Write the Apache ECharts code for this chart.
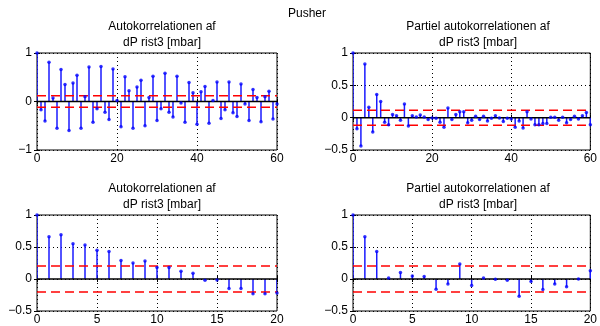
<!DOCTYPE html>
<html>
<head>
<meta charset="utf-8">
<script src="https://cdn.jsdelivr.net/npm/echarts@6/dist/echarts.min.js"></script>
<style>
  html, body { margin: 0; padding: 0; background: #fff; }
  #chart { width: 600px; height: 326px; }
</style>
</head>
<body>
<div id="chart"></div>
<script>
// ACF / PACF, lag 0..60
const acfLong = [1, -0.17, -0.40, 0.81, 0.07, -0.55, 0.66, 0.35, -0.60, 0.38, 0.54,
  -0.55, 0.10, 0.71, -0.43, -0.15, 0.72, -0.22, -0.37, 0.67, 0.02,
  -0.52, 0.51, 0.22, -0.55, 0.30, 0.44, -0.50, 0.08, 0.52, -0.39,
  -0.15, 0.58, -0.22, -0.32, 0.52, -0.03, -0.43, 0.39, 0.18, -0.47,
  0.20, 0.31, -0.45, 0.02, 0.40, -0.35, -0.17, 0.40, -0.23, -0.31,
  0.36, -0.05, -0.39, 0.25, 0.08, -0.42, 0.10, 0.21, -0.36, -0.05]
const pacfLong = [1, -0.17, -0.44, 0.83, 0.16, -0.22, 0.36, 0.25, -0.07, -0.11, 0.05,
  0.03, -0.04, 0.21, -0.13, 0.03, 0.01, 0.04, 0.01, -0.03, -0.005,
  -0.01, -0.07, -0.15, 0.15, -0.03, 0.05, 0.09, 0.09, -0.08, -0.04,
  0.02, -0.03, 0.02, -0.05, -0.01, 0.03, -0.005, -0.06, -0.01, -0.02,
  -0.15, -0.05, -0.16, 0.09, -0.02, -0.11, -0.11, -0.09, -0.09, 0.005,
  0.005, -0.04, 0.005, -0.08, -0.03, 0.02, -0.02, 0.03, 0.08, -0.11]
// ACF / PACF, lag 0..20
const acfShort = [1, 0.66, 0.69, 0.55, 0.53, 0.45, 0.43, 0.29, 0.25, 0.28, 0.18,
  0.18, 0.12, 0.09, -0.02, -0.015, -0.15, -0.15, -0.23, -0.23, -0.22]
const pacfShort = [1, 0.66, 0.43, 0.015, 0.10, 0.045, 0.04, -0.16, -0.08, 0.235, -0.10,
  0.015, -0.005, -0.02, -0.27, -0.04, -0.165, -0.08, -0.12, 0, 0.13]

// konfidensgrænser
const boundLong = 0.116
const boundShort = 0.205

const titleLine1 = ['Autokorrelationen af', 'Partiel autokorrelationen af']
const titleLine2 = 'dP rist3 [mbar]'
const mainTitle = 'Pusher'

const FONT = 'Liberation Sans'

// panel layout: [left, top, width, height]
const panels = [
  { box: [37, 53, 240, 97], data: acfLong, bound: boundLong, xMax: 60, xInt: 20, yMin: -1, yMax: 1, yInt: 1, t: 0 },
  { box: [353, 53, 240, 97], data: pacfLong, bound: boundLong, xMax: 60, xInt: 20, yMin: -0.5, yMax: 1, yInt: 0.5, t: 1 },
  { box: [37, 215, 240, 96], data: acfShort, bound: boundShort, xMax: 20, xInt: 5, yMin: -0.5, yMax: 1, yInt: 0.5, t: 0 },
  { box: [353, 215, 240, 96], data: pacfShort, bound: boundShort, xMax: 20, xInt: 5, yMin: -0.5, yMax: 1, yInt: 0.5, t: 1 },
]

const chart = echarts.init(document.getElementById('chart'))

const grid = [], xAxis = [], yAxis = [], series = [], titles = []
const txt = { fontFamily: FONT, fontSize: 12, fontWeight: 'normal', color: '#000' }

titles.push({ text: mainTitle, left: 302, top: 3, textAlign: 'center', textStyle: txt })

panels.forEach((p, i) => {
  const [l, t, w, h] = p.box
  grid.push({ left: l, top: t, width: w, height: h, show: true, borderColor: '#000', borderWidth: 1, backgroundColor: '#fff' })

  titles.push({ text: titleLine1[p.t], left: l + w / 2, top: t - 37, textAlign: 'center', textStyle: txt })
  titles.push({ text: titleLine2, left: l + w / 2, top: t - 21, textAlign: 'center', textStyle: txt })

  const tickStyle = { inside: true, length: 3, lineStyle: { color: '#000' } }
  const gridStyle = { show: true, lineStyle: { color: '#000', type: [1, 3], width: 1 } }

  xAxis.push({
    gridIndex: i, type: 'value', min: 0, max: p.xMax, interval: p.xInt,
    axisLine: { show: false }, axisTick: tickStyle,
    axisLabel: { fontFamily: FONT, fontSize: 12, color: '#000', margin: 3 },
    splitLine: gridStyle,
  })
  xAxis.push({
    gridIndex: i, type: 'value', position: 'top', min: 0, max: p.xMax, interval: p.xInt,
    axisLine: { show: false }, axisTick: tickStyle, axisLabel: { show: false }, splitLine: { show: false },
  })
  yAxis.push({
    gridIndex: i, type: 'value', min: p.yMin, max: p.yMax, interval: p.yInt,
    axisLine: { show: false }, axisTick: tickStyle,
    axisLabel: { fontFamily: FONT, fontSize: 12, color: '#000', margin: 5,
      formatter: v => (v < 0 ? '\u2212' + String(-v) : String(v)) },
    splitLine: gridStyle,
  })
  yAxis.push({
    gridIndex: i, type: 'value', position: 'right', min: p.yMin, max: p.yMax, interval: p.yInt,
    axisLine: { show: false }, axisTick: tickStyle, axisLabel: { show: false }, splitLine: { show: false },
  })

  const xi = i * 2, yi = i * 2
  const pts = p.data.map((v, k) => [k, v])

  // stilke
  series.push({
    type: 'custom', xAxisIndex: xi, yAxisIndex: yi, z: 2, clip: true,
    data: pts,
    renderItem: (params, api) => {
      const a = api.coord([api.value(0), 0])
      const b = api.coord([api.value(0), api.value(1)])
      return { type: 'line', shape: { x1: a[0], y1: a[1], x2: b[0], y2: b[1] },
        style: { stroke: '#1a1aff', lineWidth: 1.5 } }
    },
  })
  // konfidensgrænser
  ;[p.bound, -p.bound].forEach(b => {
    series.push({
      type: 'line', xAxisIndex: xi, yAxisIndex: yi, z: 3, symbol: 'none', silent: true,
      data: [[0, b], [p.xMax, b]],
      lineStyle: { color: '#ff0000', width: 1.5, type: [9, 5] },
    })
  })
  // nul-linje
  series.push({
    type: 'line', xAxisIndex: xi, yAxisIndex: yi, z: 4, symbol: 'none', silent: true,
    data: [[0, 0], [p.xMax, 0]],
    lineStyle: { color: '#000', width: 1.5 },
  })
  // punkter
  series.push({
    type: 'scatter', xAxisIndex: xi, yAxisIndex: yi, z: 5, silent: true,
    data: pts, symbol: 'circle', symbolSize: 3.5,
    itemStyle: { color: '#0000ff' },
  })
})

chart.setOption({
  animation: false,
  title: titles,
  grid, xAxis, yAxis, series,
})
</script>
</body>
</html>
